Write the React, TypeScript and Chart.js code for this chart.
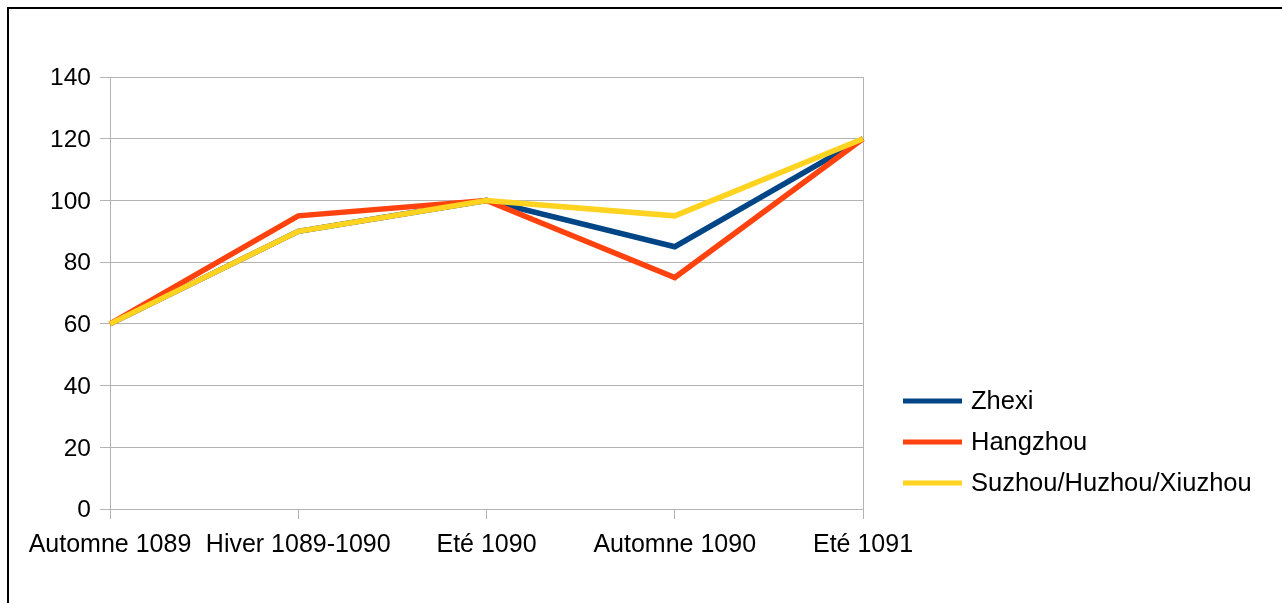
import React, { useEffect, useRef } from "react";
import { Chart, registerables } from "chart.js";

Chart.register(...registerables);

const categories = ["Automne 1089", "Hiver 1089-1090", "Eté 1090", "Automne 1090", "Eté 1091"];
const seriesNames = ["Zhexi", "Hangzhou", "Suzhou/Huzhou/Xiuzhou"];
const zhexiValues = [60, 90, 100, 85, 120];
const hangzhouValues = [60, 95, 100, 75, 120];
const suzhouValues = [60, 90, 100, 95, 120];
const seriesColors = ["#004586", "#ff420e", "#ffd320"];
const yMin = 0;
const yMax = 140;
const yStep = 20;

const FONT = "'Liberation Sans', Arial, sans-serif";
const GRID = "#b3b3b3";

const sideLegend = {
  id: "sideLegend",
  afterDraw(chart: any) {
    const ctx = chart.ctx as CanvasRenderingContext2D;
    ctx.save();
    chart.data.datasets.forEach((ds: any, i: number) => {
      const y = 401 + i * 41;
      ctx.strokeStyle = ds.borderColor;
      ctx.lineWidth = 5;
      ctx.lineCap = "butt";
      ctx.beginPath();
      ctx.moveTo(903, y);
      ctx.lineTo(962, y);
      ctx.stroke();
      ctx.fillStyle = "#000";
      ctx.font = `25.5px ${FONT}`;
      ctx.textBaseline = "middle";
      ctx.textAlign = "left";
      ctx.fillText(ds.label, 971, y + 1);
    });
    ctx.restore();
  },
};

export default function App() {
  const ref = useRef<HTMLCanvasElement | null>(null);

  useEffect(() => {
    if (!ref.current) return;
    const values = [zhexiValues, hangzhouValues, suzhouValues];
    const chart = new Chart(ref.current, {
      type: "line",
      data: {
        labels: categories,
        datasets: seriesNames.map((name, i) => ({
          label: name,
          data: values[i],
          borderColor: seriesColors[i],
          backgroundColor: seriesColors[i],
          borderWidth: 5.5,
          pointRadius: 0,
          pointHoverRadius: 0,
          borderJoinStyle: "miter" as const,
          tension: 0,
          fill: false,
          order: seriesNames.length - 1 - i,
        })),
      },
      options: {
        responsive: false,
        animation: false,
        devicePixelRatio: 1,
        layout: { padding: { left: 0, right: 419, top: 77, bottom: 0 } },
        plugins: {
          legend: { display: false },
          tooltip: { enabled: false },
          title: { display: false },
        },
        scales: {
          x: {
            offset: false,
            afterFit(scale: any) {
              scale.height = 94;
            },
            grid: {
              color: (c: any) => (c.index === categories.length - 1 ? GRID : "transparent"),
              tickColor: GRID,
              tickLength: 10,
              lineWidth: 1,
            },
            border: { display: true, color: GRID, width: 1 },
            ticks: {
              color: "#000",
              font: { family: FONT, size: 25 },
              padding: 11,
              autoSkip: false,
              maxRotation: 0,
              minRotation: 0,
            },
          },
          y: {
            min: yMin,
            max: yMax,
            afterFit(scale: any) {
              scale.width = 110;
            },
            grid: { color: GRID, tickColor: GRID, tickLength: 10, lineWidth: 1 },
            border: { display: true, color: GRID, width: 1 },
            ticks: {
              stepSize: yStep,
              color: "#000",
              font: { family: FONT, size: 24.5 },
              padding: 9,
              labelOffset: 1.5,
            },
          },
        },
      },
      plugins: [sideLegend],
    });
    return () => chart.destroy();
  }, []);

  return (
    <div style={{ position: "fixed", left: 0, top: 0, width: 1282, height: 603, background: "#fff", overflow: "hidden" }}>
      <div
        style={{
          position: "absolute",
          left: 7,
          top: 7,
          width: 1282,
          height: 620,
          borderLeft: "2px solid #000",
          borderTop: "2px solid #000",
          boxSizing: "border-box",
        }}
      />
      <canvas ref={ref} width={1282} height={603} style={{ position: "absolute", left: 0, top: 0, width: 1282, height: 603 }} />
    </div>
  );
}
